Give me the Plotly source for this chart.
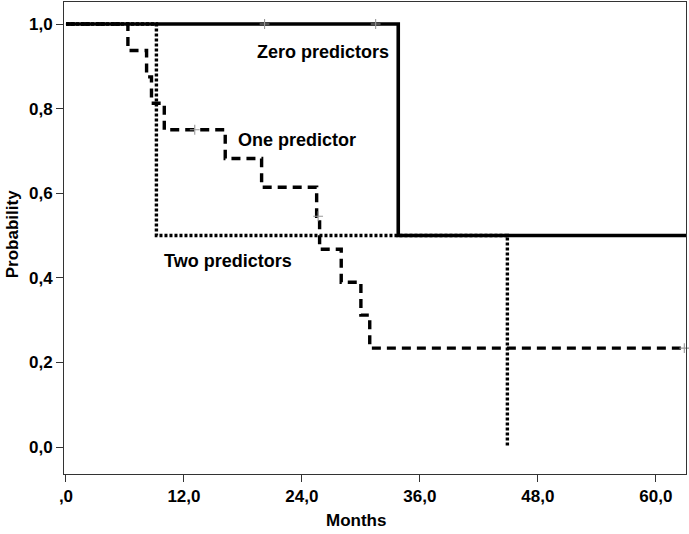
import plotly.graph_objects as go

# ---- data ----
zero_t = [0, 33.8, 63.5]
zero_s = [1.0, 0.5, 0.5]
zero_cens_t = [20.2, 31.5]
zero_cens_s = [1.0, 1.0]

one_t = [0, 6.3, 8.2, 8.7, 10.0, 16.2, 19.9, 25.5, 25.8, 28.0, 30.0, 30.9, 62.9]
one_s = [1.0, 0.9375, 0.875, 0.8125, 0.75, 0.682, 0.614, 0.5455, 0.4675, 0.3896, 0.3117, 0.2338, 0.2338]
one_cens_t = [13.1, 25.65, 62.9]
one_cens_s = [0.75, 0.5455, 0.2338]

two_t = [0, 9.2, 44.9]
two_s = [1.0, 0.5, 0.0]

x_ticks = [0, 12, 24, 36, 48, 60]
x_ticktext = [",0", "12,0", "24,0", "36,0", "48,0", "60,0"]
y_ticks = [0, 0.2, 0.4, 0.6, 0.8, 1.0]
y_ticktext = ["0,0", "0,2", "0,4", "0,6", "0,8", "1,0"]

FONT = "Liberation Sans, Arial, sans-serif"

fig = go.Figure()

fig.add_trace(go.Scatter(x=two_t, y=two_s, mode="lines", line_shape="hv",
                         line=dict(color="black", width=3.4, dash="3px,2px"),
                         showlegend=False, hoverinfo="skip"))
fig.add_trace(go.Scatter(x=one_t, y=one_s, mode="lines", line_shape="hv",
                         line=dict(color="black", width=3.4, dash="9px,6px"),
                         showlegend=False, hoverinfo="skip"))
fig.add_trace(go.Scatter(x=zero_t, y=zero_s, mode="lines", line_shape="hv",
                         line=dict(color="black", width=3.6),
                         showlegend=False, hoverinfo="skip"))

cens_marker = dict(symbol="cross-thin", size=7, color="#999999",
                   line=dict(color="#999999", width=1.1))
fig.add_trace(go.Scatter(x=zero_cens_t, y=zero_cens_s, mode="markers",
                         marker=cens_marker, showlegend=False, hoverinfo="skip"))
fig.add_trace(go.Scatter(x=one_cens_t, y=one_cens_s, mode="markers",
                         marker=cens_marker, showlegend=False, hoverinfo="skip",
                         cliponaxis=False))

labels = [("Zero predictors", 26.1, 0.934),
          ("One predictor", 23.5, 0.726),
          ("Two predictors", 16.5, 0.44)]
for txt, x, y in labels:
    fig.add_annotation(x=x, y=y, text=txt, showarrow=False,
                       xanchor="center", yanchor="middle",
                       font=dict(family=FONT, size=18, color="black", weight="bold"))

# axis titles
fig.add_annotation(xref="paper", yref="paper", x=0.47, y=-0.099,
                   xanchor="center", yanchor="middle",
                   text="Months", showarrow=False,
                   font=dict(family=FONT, size=17, color="black", weight="bold"))
fig.add_annotation(xref="paper", yref="paper", x=-0.0836, y=0.508,
                   xanchor="center", yanchor="middle",
                   text="Probability", showarrow=False, textangle=-90,
                   font=dict(family=FONT, size=17, color="black", weight="bold"))

fig.update_layout(
    width=689, height=534,
    margin=dict(l=64, r=3, t=2, b=60),
    paper_bgcolor="white", plot_bgcolor="white",
    font=dict(family=FONT, size=17, color="black", weight="bold"),
)
fig.update_xaxes(range=[-0.2, 63.07], tickvals=x_ticks, ticktext=x_ticktext,
                 ticks="outside", ticklen=7, tickcolor="#333", tickwidth=1,
                 showline=True, linecolor="#333", linewidth=1, mirror=True,
                 showgrid=False, zeroline=False, automargin=False)
fig.update_yaxes(range=[-0.0638, 1.052], tickvals=y_ticks, ticktext=y_ticktext,
                 ticks="outside", ticklen=7, tickcolor="#333", tickwidth=1,
                 showline=True, linecolor="#333", linewidth=1, mirror=True,
                 showgrid=False, zeroline=False, automargin=False)

fig.write_html("out.html", config={"displayModeBar": False},
               post_script="document.body.style.margin='0px';")
